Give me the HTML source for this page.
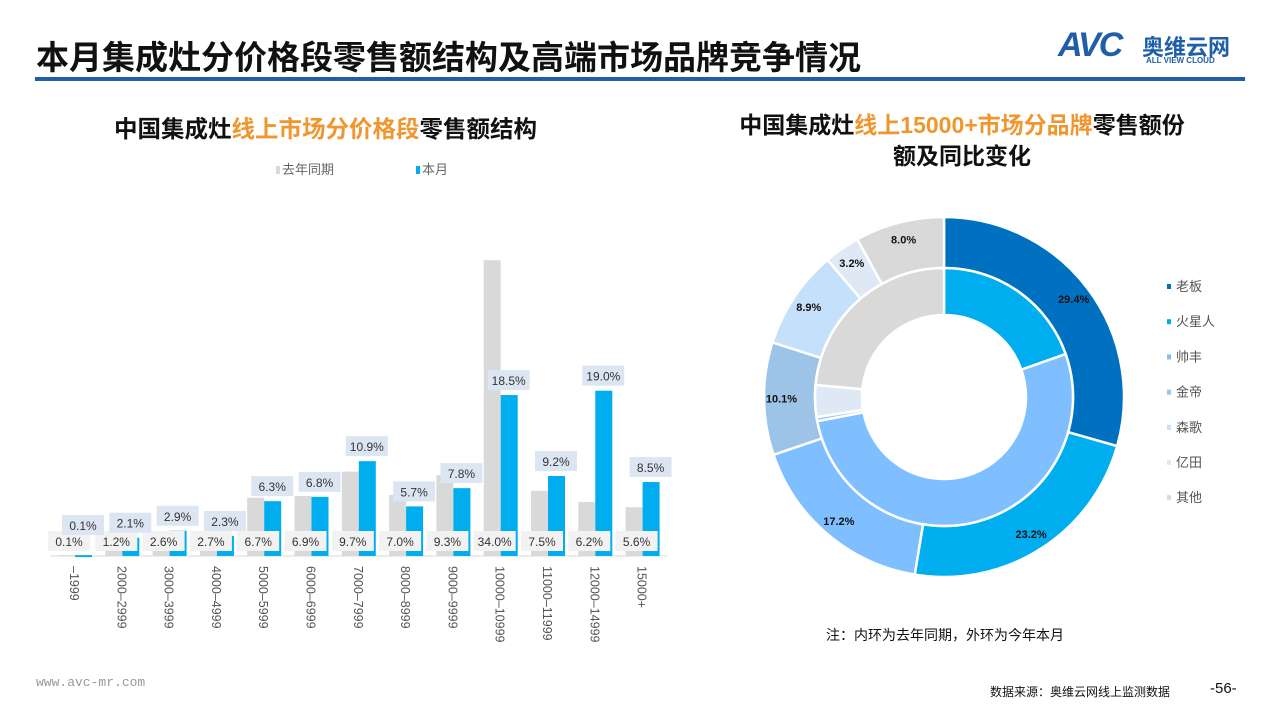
<!DOCTYPE html>
<html><head><meta charset="utf-8"><style>
body{margin:0;width:1280px;height:720px;background:#fff;font-family:"Liberation Sans","Noto Sans CJK SC",sans-serif;position:relative;overflow:hidden}
.a{position:absolute}
</style></head><body>
<div class="a" style="left:36px;top:31px;font-size:33px;font-weight:bold;color:#111;white-space:nowrap">本月集成灶分价格段零售额结构及高端市场品牌竞争情况</div>
<div class="a" style="left:35px;top:77px;width:1210px;height:4px;background:#1f5ea8"></div>
<div class="a" style="left:1058px;top:26px;width:190px;height:40px">
 <span style="position:absolute;left:0;top:0;font-size:34px;font-weight:bold;font-style:italic;color:#1f5ea8;letter-spacing:-2px">AVC</span>
 <span style="position:absolute;left:84px;top:4px;font-size:22px;font-weight:bold;color:#1f5ea8">奥维云网</span>
 <span style="position:absolute;left:88px;top:30px;font-size:8px;font-weight:bold;color:#1f5ea8">ALL VIEW CLOUD</span>
</div>
<div class="a" style="left:114px;top:110px;font-size:23.5px;font-weight:bold;color:#111;white-space:nowrap">中国集成灶<span style="color:#f0962e">线上市场分价格段</span>零售额结构</div>
<div class="a" style="left:712px;top:110px;width:500px;text-align:center;font-size:23px;font-weight:bold;color:#111;line-height:31px">中国集成灶<span style="color:#f0962e">线上15000+市场分品牌</span>零售额份<br>额及同比变化</div>
<div class="a" style="left:276px;top:159px;font-size:13px;color:#666"><span style="display:inline-block;width:4px;height:8px;background:#d9d9d9;margin-right:2px"></span>去年同期</div>
<div class="a" style="left:416px;top:159px;font-size:13px;color:#666"><span style="display:inline-block;width:4px;height:8px;background:#00aeef;margin-right:2px"></span>本月</div>
<svg class="a" style="left:0;top:0" width="1280" height="720" id="svg"></svg>
<div class="a" style="left:826px;top:625px;font-size:14px;color:#111">注：内环为去年同期，外环为今年本月</div>
<div class="a" style="left:36px;top:675px;font-size:13px;color:#999;font-family:'Liberation Mono',monospace">www.avc-mr.com</div>
<div class="a" style="left:990px;top:683px;font-size:12px;color:#111">数据来源：奥维云网线上监测数据</div>
<div class="a" style="left:1210px;top:680px;font-size:15px;color:#111">-56-</div>
<script>
const categories=["-1999","2000-2999","3000-3999","4000-4999","5000-5999","6000-6999","7000-7999","8000-8999","9000-9999","10000-10999","11000-11999","12000-14999","15000+"];
const lastYear=[0.1,1.2,2.6,2.7,6.7,6.9,9.7,7.0,9.3,34.0,7.5,6.2,5.6];
const thisMonth=[0.1,2.1,2.9,2.3,6.3,6.8,10.9,5.7,7.8,18.5,9.2,19.0,8.5];
const brands=["老板","火星人","帅丰","金帝","森歌","亿田","其他"];
const brandColors=["#0070c0","#00aeef","#7fbfff","#9dc3e6","#c5e0fb","#dfe9f5","#d9d9d9"];
const outerVals=[29.4,23.2,17.2,10.1,8.9,3.2,8.0];
const innerVals=[0,19.6,52.4,0.5,0,4.0,23.5];
const NS="http://www.w3.org/2000/svg";
const svg=document.getElementById('svg');
function mk(t,a,p){const e=document.createElementNS(NS,t);for(const k in a)e.setAttribute(k,a[k]);(p||svg).appendChild(e);return e;}
const base=556,scaleY=8.7,x0=75,step=47.3,bw=17;
const yS=v=>base-v*scaleY;
const xC=i=>x0+i*step;
const ax=mk('line',{x1:50,x2:668,y1:base,y2:base,stroke:'#d9d9d9'});


function label(x,y,txt,bg){
 const g=mk('g',{});
 
 
 mk('rect',{x:x-21,y:y-10,width:42,height:20,fill:bg},g);
 const t=mk('text',{x:x,y:y+5,'text-anchor':'middle','font-size':12,fill:'#333','font-family':'Liberation Sans, Noto Sans CJK SC, sans-serif'},g);
 t.textContent=txt;
}
categories.forEach((c,i)=>{
 const cx=xC(i);
 const r1=mk('rect',{x:cx-bw,y:yS(lastYear[i]),width:bw,height:lastYear[i]*scaleY,fill:'#d9d9d9'});
 
 
 const r2=mk('rect',{x:cx,y:yS(thisMonth[i]),width:bw,height:Math.max(thisMonth[i]*scaleY,2),fill:'#00aeef'});
 
 
});
categories.forEach((c,i)=>{
 const cx=xC(i);
 label(cx-6,541,lastYear[i].toFixed(1)+'%','#f2f2f2');
});
categories.forEach((c,i)=>{
 const cx=xC(i);
 let ly=yS(thisMonth[i])-15; if(ly>525)ly=525;
 label(cx+8,ly,thisMonth[i].toFixed(1)+'%','#dce6f2');
 const t=mk('text',{transform:`translate(${cx-5},566) rotate(90)`,'font-size':12.5,fill:'#555','font-family':'Liberation Sans, sans-serif'});
 
 
 t.textContent=c.replace('-','\u2013');
});
const cx0=944,cy0=397;
function arc(r0,r1,a0,a1,fill){
 const p=(r,a)=>[cx0+r*Math.sin(a),cy0-r*Math.cos(a)];
 const lg=(a1-a0)>Math.PI?1:0;
 const [x1,y1]=p(r1,a0),[x2,y2]=p(r1,a1),[x3,y3]=p(r0,a1),[x4,y4]=p(r0,a0);
 return mk('path',{d:`M${x1},${y1}A${r1},${r1} 0 ${lg} 1 ${x2},${y2}L${x3},${y3}A${r0},${r0} 0 ${lg} 0 ${x4},${y4}Z`,fill:fill,stroke:'#fff','stroke-width':2.5});
}
function ring(vals,r0,r1,showLabels){
 const tot=vals.reduce((a,b)=>a+b,0);let a=0;
 vals.forEach((v,i)=>{
  if(v<=0)return;
  const a1=a+v/tot*2*Math.PI;
  const s=arc(r0,r1,a,a1,brandColors[i]);
  
  
  if(showLabels){
   const m=(a+a1)/2,rm=(r0+r1)/2+8;
   const t=mk('text',{x:cx0+rm*Math.sin(m),y:cy0-rm*Math.cos(m)+4,'text-anchor':'middle','font-size':11,'font-weight':'bold',fill:'#111','font-family':'Liberation Sans, sans-serif'});
   
   
   t.textContent=v.toFixed(1)+'%';
  }
  a=a1;
 });
}
ring(outerVals,129,180,true);
ring(innerVals,82,129,false);
brands.forEach((b,i)=>{
 const y=287+i*35.2;
 const r=mk('rect',{x:1167,y:y-3,width:4,height:5,fill:brandColors[i]});
 
 
 const t=mk('text',{x:1176,y:y+4,'font-size':13,fill:'#555','font-family':'Liberation Sans, Noto Sans CJK SC, sans-serif'});
 
 
 t.textContent=b;
});
</script>
</body></html>
